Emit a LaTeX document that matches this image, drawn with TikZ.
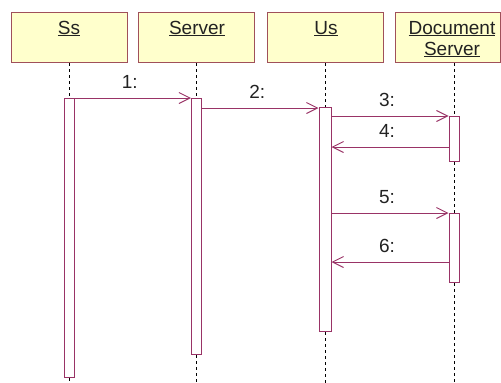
\documentclass[tikz,border=0pt]{standalone}
\usepackage{fontspec}
\setmainfont{Liberation Sans}
\usetikzlibrary{arrows.meta,calc}
\definecolor{headfill}{HTML}{FFFFCC}
\definecolor{headline}{HTML}{A0505A}
\definecolor{actline}{HTML}{993366}
\definecolor{txt}{HTML}{222222}

\begin{document}
\begin{tikzpicture}[x=1pt,y=-1pt,
  head/.style={draw=headline, fill=headfill, line width=1pt, minimum width=116pt,
    minimum height=50pt, inner sep=0pt, anchor=north},
  headtext/.style={font=\fontsize{19}{21}\selectfont, text=txt, align=center,
    anchor=base, inner sep=0pt},
  life/.style={black, line width=0.8pt, dash pattern=on 3pt off 3pt},
  act/.style={draw=actline, fill=white, line width=1pt, minimum width=10pt,
    inner sep=0pt, anchor=north},
  msg/.style={actline, line width=1pt,
    -{Straight Barb[length=11pt,width=11pt,line width=1pt]}},
  lbl/.style={font=\fontsize{19}{21}\selectfont, text=txt, inner sep=0pt,
    anchor=base, xshift=-3pt, yshift=10pt}]

\useasboundingbox (0,0) rectangle (501,383);

% object heads
\node[head] (h1) at (69,12) {};
\node[head] (h2) at (196.5,12) {};
\node[head] (h3) at (325,12) {};
\node[head, minimum width=105pt] (h4) at (447.5,12) {};
\node[headtext] (t1) at (69,34) {\underline{Ss}};
\node[headtext] (t2) at (197,34) {\underline{Server}};
\node[headtext] (t3) at (326,34) {\underline{Us}};
% two-line label: its base anchor sits on the second line
\node[headtext] (t4) at (452,55) {\underline{Document}\\[0pt]\underline{Server}};

% bottom end of the lifelines
\coordinate (bot) at (0,383);

% activation bars
\node[act, minimum height=279pt] (a1) at (69,98) {};
\node[act, minimum height=256pt] (a2) at (196.5,98) {};
\node[act, minimum height=224pt, minimum width=12pt] (a3) at (325,107) {};
\node[act, minimum height=45pt] (a4) at (454,116) {};
\node[act, minimum height=69pt] (a5) at (454,213) {};

% lifelines, broken by the bars
\draw[life] (a1 |- h1.south) -- (a1.north);
\draw[life] (a1.south) -- (a1 |- bot);
\draw[life] (a2 |- h2.south) -- (a2.north);
\draw[life] (a2.south) -- (a2 |- bot);
\draw[life] (a3 |- h3.south) -- (a3.north);
\draw[life] (a3.south) -- (a3 |- bot);
\draw[life] (a4 |- h4.south) -- (a4.north);
\draw[life] (a4.south) -- (a5.north);
\draw[life] (a5.south) -- (a5 |- bot);

% messages with their labels
\draw[msg] (a1.north east) -- node[lbl] (l1) {1:} (a2.north west);
\draw[msg] ($(a2.north east)+(0,10)$) -- node[lbl] (l2) {2:} ($(a3.north west)+(0,1)$);
\draw[msg] ($(a3.north east)+(0,9)$) -- node[lbl] (l3) {3:} (a4.north west);
\draw[msg] ($(a4.north west)+(0,31)$) -- node[lbl] (l4) {4:} ($(a3.north east)+(0,40)$);
\draw[msg] ($(a3.north east)+(0,106)$) -- node[lbl] (l5) {5:} (a5.north west);
\draw[msg] ($(a5.north west)+(0,49)$) -- node[lbl] (l6) {6:} ($(a3.north east)+(0,155)$);
\end{tikzpicture}
\end{document}
